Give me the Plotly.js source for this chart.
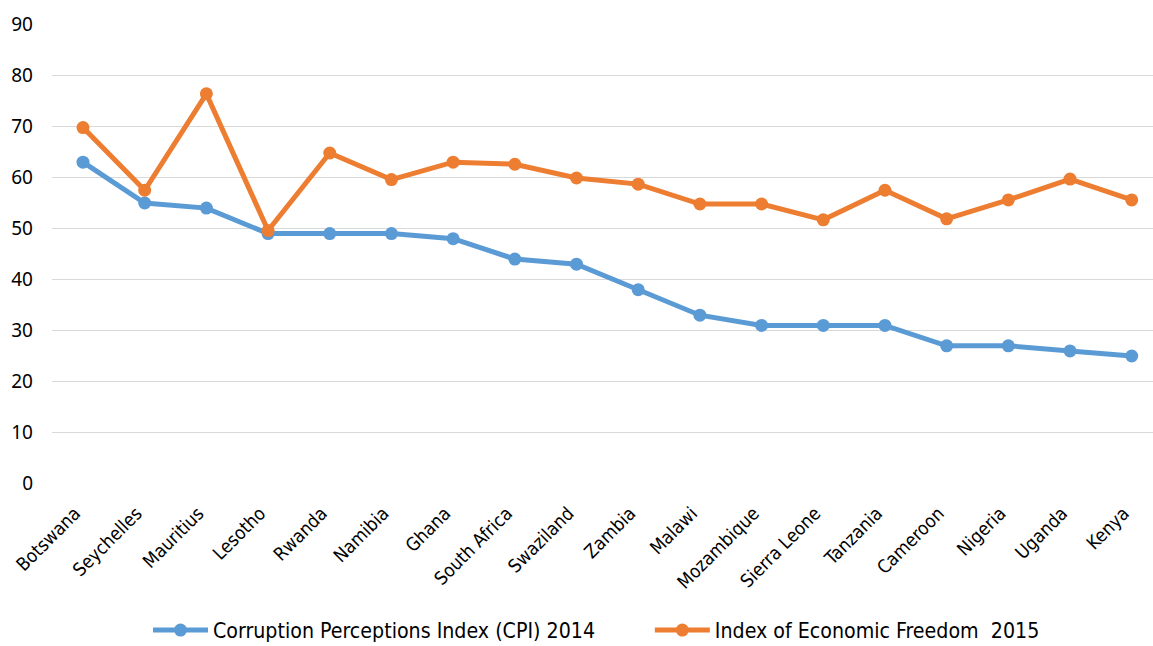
<!DOCTYPE html>
<html>
<head>
<meta charset="utf-8">
<script src="https://cdn.plot.ly/plotly-3.0.1.min.js"></script>
<style>html,body{margin:0;padding:0;background:#fff;}#chart{width:1153px;height:646px;}</style>
</head>
<body>
<div id="chart"></div>
<script>
const countries = ["Botswana","Seychelles","Mauritius","Lesotho","Rwanda","Namibia","Ghana","South Africa","Swaziland","Zambia","Malawi","Mozambique","Sierra Leone","Tanzania","Cameroon","Nigeria","Uganda","Kenya"];
const cpi2014 = [63,55,54,49,49,49,48,44,43,38,33,31,31,31,27,27,26,25];
const ief2015 = [69.8,57.5,76.4,49.6,64.8,59.6,63.0,62.6,59.9,58.7,54.8,54.8,51.7,57.5,51.9,55.6,59.7,55.6];
const seriesNames = ["Corruption Perceptions Index (CPI) 2014","Index of Economic Freedom  2015"];
const yTicks = [0,10,20,30,40,50,60,70,80,90];

const labelFont = "'DejaVu Sans Condensed', 'DejaVu Sans', sans-serif";
const numFont = "'Noto Sans', 'Open Sans', sans-serif";
const traces = [
  {x: countries, y: cpi2014, name: seriesNames[0], type: "scatter", mode: "lines+markers", legend: "legend",
   line: {color: "#5B9BD5", width: 5}, marker: {color: "#5B9BD5", size: 13}},
  {x: countries, y: ief2015, name: seriesNames[1], type: "scatter", mode: "lines+markers", legend: "legend2",
   line: {color: "#ED7D31", width: 5}, marker: {color: "#ED7D31", size: 13}}
];
const legendBase = {orientation: "h", xanchor: "left", y: -0.318, yanchor: "middle",
  font: {size: 21.2, family: labelFont, color: "#000"}, itemwidth: 55, bgcolor: "rgba(0,0,0,0)"};
const layout = {
  width: 1153, height: 646,
  margin: {l: 52, r: 0, t: 24, b: 162, autoexpand: false},
  paper_bgcolor: "#fff", plot_bgcolor: "#fff",
  font: {family: labelFont, size: 18, color: "#000"},
  xaxis: {type: "category", range: [-0.5025, 17.345], tickangle: -45, showgrid: false,
          zeroline: false, showline: false, ticks: "", ticklabelstandoff: 14, ticklabelshift: -8,
          tickfont: {size: 18.5, family: labelFont, color: "#000"}, fixedrange: true, automargin: false},
  yaxis: {range: [-0.1, 90.1], tickvals: yTicks, ticktext: yTicks.map(String), showgrid: true,
          gridcolor: "#d9d9d9", gridwidth: 1.8, zeroline: false, showline: false, ticks: "",
          ticklabelstandoff: 18, tickfont: {size: 19, family: numFont, color: "#000"},
          fixedrange: true, automargin: false},
  showlegend: true,
  legend: Object.assign({}, legendBase, {x: 0.0872}),
  legend2: Object.assign({}, legendBase, {x: 0.543})
};
Plotly.newPlot("chart", traces, layout, {displayModeBar: false, staticPlot: true});
</script>
</body>
</html>
